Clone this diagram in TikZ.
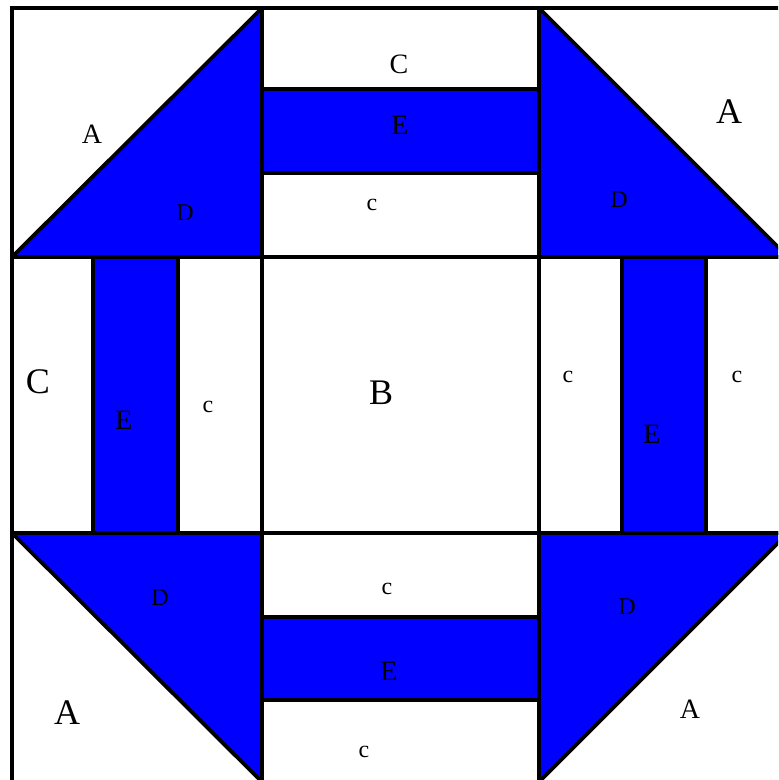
\documentclass[tikz,border=0pt]{standalone}
\usepackage{fontspec}
\setmainfont{Liberation Serif}
\definecolor{qblue}{RGB}{0,0,255}
\tikzset{
  cell/.style={draw=black, line width=2.8pt, fill=white},
  patch/.style={draw=black, line width=2.8pt, fill=qblue, line join=miter, miter limit=2},
  lbl/.style={inner sep=0pt, anchor=center},
  big/.style={lbl, font=\fontsize{27}{27}\selectfont},
  mid/.style={lbl, font=\fontsize{21}{21}\selectfont},
  sml/.style={lbl, font=\fontsize{18}{18}\selectfont}
}
\begin{document}
\begin{tikzpicture}[x=0.75pt,y=-0.75pt]
\useasboundingbox (0,0) rectangle (778,780);
\fill[white] (0,0) rectangle (778,780);
\begin{scope}
\clip (0,0) rectangle (778,780);
% grid cells
\foreach \xa/\xb in {12/262,262/539,539/788}{
  \foreach \ya/\yb in {8/257,257/533,533/782}{
    \draw[cell] (\xa,\ya) rectangle (\xb,\yb);
  }
}
% D triangles
\draw[patch] (12,257) -- (262,8) -- (262,257) -- cycle;
\draw[patch] (539,8) -- (788,257) -- (539,257) -- cycle;
\draw[patch] (12,533) -- (262,533) -- (262,782) -- cycle;
\draw[patch] (539,533) -- (788,533) -- (539,782) -- cycle;
% E strips
\draw[patch] (262,89) rectangle (539,173);
\draw[patch] (93,257) rectangle (178,533);
\draw[patch] (622,257) rectangle (706,533);
\draw[patch] (262,617) rectangle (539,700);
\end{scope}
% labels
\node[mid] (tc1) at (399,64) {C};
\node[mid] (te) at (400,125) {E};
\node[sml] (tc2) at (372,205) {c};
\node[mid] (tla) at (92,134) {A};
\node[sml] (tld) at (185,213) {D};
\node[big] (tra) at (729,112) {A};
\node[sml] (trd) at (619,200) {D};
\node[big] (lc) at (38,382) {C};
\node[mid] (le) at (124,420) {E};
\node[sml] (lc2) at (208,407) {c};
\node[big] (b) at (381,393) {B};
\node[sml] (rc1) at (568,377) {c};
\node[sml] (rc2) at (737,377) {c};
\node[mid] (re) at (652,434) {E};
\node[sml] (bld) at (160,598) {D};
\node[big] (bla) at (67,713) {A};
\node[sml] (bc1) at (387,589) {c};
\node[mid] (be) at (389,671) {E};
\node[sml] (bc2) at (364,752) {c};
\node[sml] (brd) at (627,607) {D};
\node[mid] (bra) at (690,709) {A};
\end{tikzpicture}
\end{document}
